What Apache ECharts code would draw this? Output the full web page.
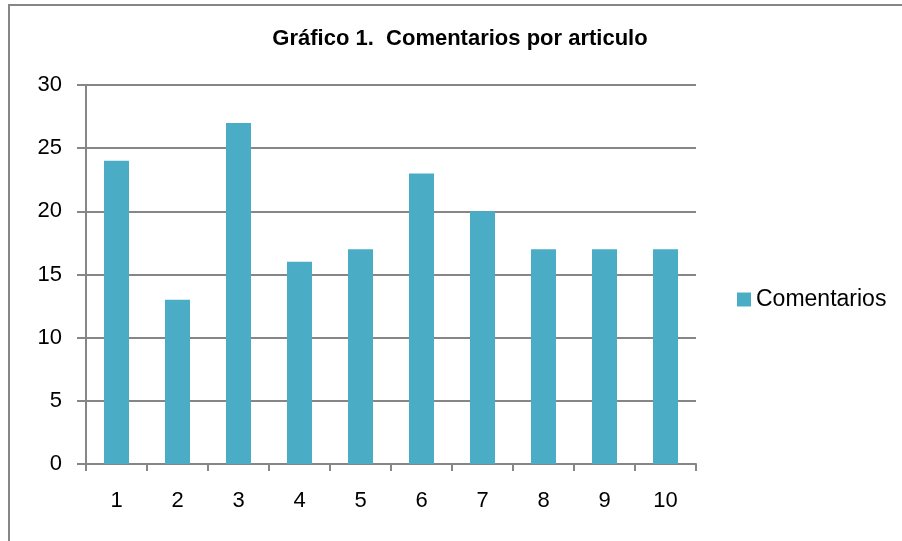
<!DOCTYPE html>
<html>
<head>
<meta charset="utf-8">
<script src="https://cdn.jsdelivr.net/npm/echarts@6/dist/echarts.min.js"></script>
<style>
  html, body { margin: 0; padding: 0; background: #fff; }
  #frame { position: absolute; left: 8px; top: 4px; width: 900px; height: 540px;
           border-left: 2px solid #868686; border-top: 2px solid #868686; box-sizing: border-box; }
  #chart { position: absolute; left: 0; top: 0; width: 902px; height: 541px; }
</style>
</head>
<body>
<div id="frame"></div>
<div id="chart"></div>
<script>
// Comment counts per article
const titleText = 'Gráfico 1.  Comentarios por articulo';
const seriesName = 'Comentarios';
const articles = ['1', '2', '3', '4', '5', '6', '7', '8', '9', '10'];
const comments = [24, 13, 27, 16, 17, 23, 20, 17, 17, 17];

const font = 'Liberation Sans, Arial, sans-serif';
const axisGray = '#868686';

const chart = echarts.init(document.getElementById('chart'), null, { renderer: 'canvas' });
chart.setOption({
  animation: false,
  title: {
    text: titleText,
    left: 460, top: 28, textAlign: 'center', padding: 0,
    textStyle: { fontFamily: font, fontWeight: 'bold', fontSize: 22, color: '#000' }
  },
  legend: {
    data: [seriesName],
    left: 737, top: 288, padding: 0,
    itemWidth: 14, itemHeight: 14,
    icon: 'rect',
    textStyle: { fontFamily: font, fontSize: 23, color: '#000' }
  },
  grid: { left: 86, top: 85, width: 610, height: 379, containLabel: false },
  xAxis: {
    type: 'category',
    data: articles,
    axisLine: { lineStyle: { color: axisGray, width: 2 } },
    axisTick: { show: true, length: 7, alignWithLabel: false, lineStyle: { color: axisGray, width: 2 } },
    axisLabel: { fontFamily: font, fontSize: 22, color: '#000', margin: 26 }
  },
  yAxis: {
    type: 'value',
    min: 0, max: 30, interval: 5,
    axisLine: { show: true, lineStyle: { color: axisGray, width: 2 } },
    axisTick: { show: true, length: 9, lineStyle: { color: axisGray, width: 2 } },
    axisLabel: { fontFamily: font, fontSize: 22, color: '#000', margin: 24 },
    splitLine: { lineStyle: { color: axisGray, width: 2 } }
  },
  series: [{
    name: seriesName,
    type: 'bar',
    data: comments,
    barWidth: '41%',
    itemStyle: { color: '#4BACC6' }
  }]
});
</script>
</body>
</html>
